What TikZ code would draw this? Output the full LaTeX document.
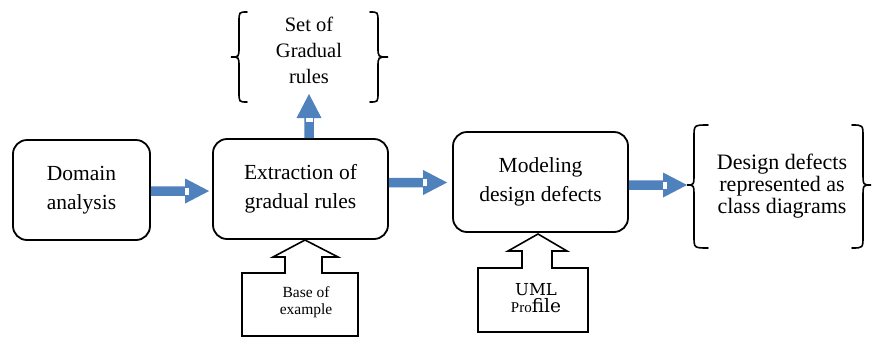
\documentclass[tikz,border=0pt]{standalone}
\usepackage{fontspec}
\setmainfont{Liberation Serif}
\newfontfamily\slabfont{DejaVu Serif}
\usetikzlibrary{calc}
\definecolor{flowblue}{RGB}{79,129,189}

\tikzset{
  stage/.style={draw=black, line width=1.8pt, rounded corners=14pt, align=center,
                inner sep=0pt, font=\fontsize{21.5}{29}\selectfont},
  plaintext/.style={align=center, inner sep=0pt},
  bracepen/.style={draw=black, line width=1.6pt, line cap=round},
  calloutpen/.style={draw=black, line width=1.6pt, line join=miter},
}

% horizontal block arrow: #1 tail, #2 tip (same height)
\newcommand\flowright[2]{%
  \fill[flowblue] ($(#1)+(0,-4.75)$) -- ($(#2)+(-24,-4.75)$) -- ($(#2)+(-24,-12.5)$)
    -- (#2) -- ($(#2)+(-24,12.5)$) -- ($(#2)+(-24,4.75)$) -- ($(#1)+(0,4.75)$) -- cycle;
  \fill[white] ($(#2)+(-24,-3.5)$) rectangle ($(#2)+(-20.5,3.5)$);
}
% vertical block arrow pointing up: #1 tail, #2 tip
\newcommand\flowup[2]{%
  \fill[flowblue] ($(#1)+(-4.75,0)$) -- ($(#2)+(-4.75,24)$) -- ($(#2)+(-12.5,24)$)
    -- (#2) -- ($(#2)+(12.5,24)$) -- ($(#2)+(4.75,24)$) -- ($(#1)+(4.75,0)$) -- cycle;
  \fill[white] ($(#2)+(-3.5,24)$) rectangle ($(#2)+(3.5,27.5)$);
}
% curly brace: #1 stem x, #2 top, #3 bottom, #4 cusp y, #5 hook dx, #6 cusp dx, #7 bend
\newcommand\curlbrace[7]{%
  \draw[bracepen] (#1+#5,#2) .. controls (#1,#2) .. (#1,#2+#7) -- (#1,#4-#7)
    .. controls (#1,#4) .. (#1+#6,#4) .. controls (#1,#4) .. (#1,#4+#7)
    -- (#1,#3-#7) .. controls (#1,#3) .. (#1+#5,#3);
}

\begin{document}
\begin{tikzpicture}[x=1pt,y=-1pt]
\useasboundingbox[fill=white] (0,0) rectangle (874,338);

% process stages
\node[stage, minimum width=137pt, minimum height=100pt] (dom) at (81.5,190) {Domain\\analysis};
\node[stage, minimum width=175pt, minimum height=100pt] (ext) at (300.5,189) {Extraction of\\gradual rules};
\node[stage, minimum width=175pt, minimum height=100pt] (mod) at (540.5,182) {Modeling\\design defects};

% braced results
\node[plaintext, font=\fontsize{20.5}{26}\selectfont] (set) at (309,50) {Set of\\Gradual\\rules};
\curlbrace{239}{12}{102}{57}{8}{-8}{10}
\curlbrace{378}{12}{102}{57}{-8}{10}{10}

\node[plaintext, font=\fontsize{22}{22}\selectfont] (out) at (782,186) {Design defects\\represented as\\class diagrams};

% flow arrows
\coordinate (t1) at ($(dom.east -| ext.west)+(-3,1)$);
\coordinate (s1) at (dom.east |- t1);
\flowright{s1}{t1}

\coordinate (t2) at ($(mod.west)+(-5,0.5)$);
\coordinate (s2) at (ext.east |- t2);
\flowright{s2}{t2}

\coordinate (t3) at (687,185);
\coordinate (s3) at (mod.east |- t3);
\flowright{s3}{t3}

\coordinate (t4) at (309,94);
\coordinate (s4) at (t4 |- ext.north);
\flowup{s4}{t4}

\curlbrace{694}{125}{248}{185}{14}{-7}{12}
\curlbrace{863}{125}{248}{185}{-11}{8}{12}

% input callouts
\draw[calloutpen] (242,336) -- (242,273) -- (285,273) -- (285,257) -- (273,257)
  -- (305,240) -- (338,257) -- (322,257) -- (322,273) -- (358,273) -- (358,336) -- cycle;
\node[plaintext, font=\fontsize{15.5}{17}\selectfont] (base) at (306,302) {Base of\\example};

\draw[calloutpen] (478,332) -- (478,268) -- (522,268) -- (522,251) -- (508,251)
  -- (538,234) -- (567,251) -- (552,251) -- (552,268) -- (588,268) -- (588,332) -- cycle;
\node[plaintext] (uml) at (536,298)
  {{\slabfont\fontsize{16.5}{18}\selectfont UML}\\[2pt]{\fontsize{15}{18}\selectfont Pro}{\slabfont\fontsize{18.5}{18}\selectfont file}};
\end{tikzpicture}
\end{document}
